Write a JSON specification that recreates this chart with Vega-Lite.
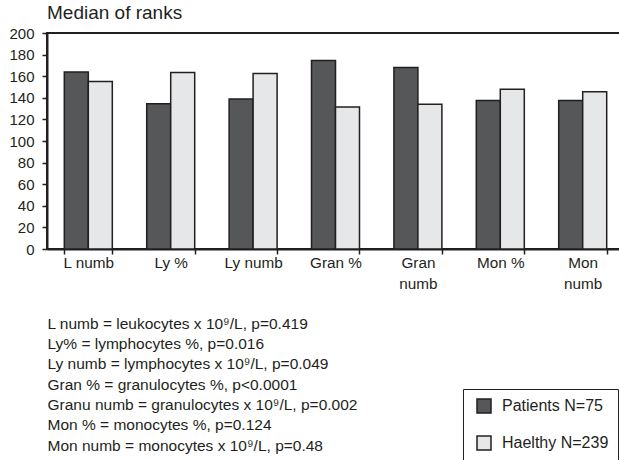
{
  "$schema": "https://vega.github.io/schema/vega-lite/v6.json",
  "autosize": {"type": "none"},
  "padding": {"left": 47, "top": 33, "right": 0, "bottom": 211},
  "width": 577,
  "height": 216,
  "background": "white",
  "title": {
    "text": "Median of ranks",
    "anchor": "start",
    "frame": "group",
    "fontSize": 19,
    "fontWeight": "normal",
    "font": "Liberation Sans",
    "color": "#231f20",
    "offset": 3
  },
  "data": {
    "values": [
      {"category": "L numb", "group": "Patients N=75", "value": 164},
      {"category": "L numb", "group": "Haelthy N=239", "value": 155},
      {"category": "Ly %", "group": "Patients N=75", "value": 134.5},
      {"category": "Ly %", "group": "Haelthy N=239", "value": 163.5},
      {"category": "Ly numb", "group": "Patients N=75", "value": 139},
      {"category": "Ly numb", "group": "Haelthy N=239", "value": 162.5},
      {"category": "Gran %", "group": "Patients N=75", "value": 174.5},
      {"category": "Gran %", "group": "Haelthy N=239", "value": 131.5},
      {"category": "Gran numb", "group": "Patients N=75", "value": 168},
      {"category": "Gran numb", "group": "Haelthy N=239", "value": 134},
      {"category": "Mon %", "group": "Patients N=75", "value": 137.5},
      {"category": "Mon %", "group": "Haelthy N=239", "value": 148},
      {"category": "Mon numb", "group": "Patients N=75", "value": 137.5},
      {"category": "Mon numb", "group": "Haelthy N=239", "value": 145.5}
    ]
  },
  "mark": {"type": "bar", "stroke": "#231f20", "strokeWidth": 1.5},
  "encoding": {
    "x": {
      "field": "category",
      "type": "nominal",
      "sort": ["L numb", "Ly %", "Ly numb", "Gran %", "Gran numb", "Mon %", "Mon numb"],
      "scale": {"paddingInner": 0.4175, "paddingOuter": 0.21},
      "axis": {
        "labelAngle": 0,
        "labelFontSize": 15.3,
        "labelFont": "Liberation Sans",
        "labelColor": "#231f20",
        "labelPadding": 1,
        "labelLineHeight": 21,
        "labelExpr": "(datum.label == 'Gran numb' || datum.label == 'Mon numb') ? split(datum.label, ' ') : datum.label",
        "tickBand": "extent",
        "tickSize": 5,
        "tickWidth": 1.5,
        "tickColor": "#231f20",
        "domainColor": "#231f20",
        "domainWidth": 2,
        "title": [
          "L numb = leukocytes x 10⁹/L, p=0.419",
          "Ly% = lymphocytes %, p=0.016",
          "Ly numb = lymphocytes x 10⁹/L, p=0.049",
          "Gran % = granulocytes %, p<0.0001",
          "Granu numb = granulocytes x 10⁹/L, p=0.002",
          "Mon % = monocytes %, p=0.124",
          "Mon numb = monocytes x 10⁹/L, p=0.48"
        ],
        "titleAnchor": "start",
        "titleAlign": "left",
        "titleFontSize": 15.5,
        "titleFontWeight": "normal",
        "titleFont": "Liberation Sans",
        "titleColor": "#231f20",
        "titleLineHeight": 20.3,
        "titlePadding": 25
      }
    },
    "xOffset": {
      "field": "group",
      "type": "nominal",
      "sort": ["Patients N=75", "Haelthy N=239"]
    },
    "y": {
      "field": "value",
      "type": "quantitative",
      "scale": {"domain": [0, 200], "nice": false},
      "axis": {
        "title": null,
        "values": [0, 20, 40, 60, 80, 100, 120, 140, 160, 180, 200],
        "grid": false,
        "labelFontSize": 15,
        "labelFont": "Liberation Sans",
        "labelColor": "#231f20",
        "labelPadding": 8,
        "tickSize": 5,
        "tickWidth": 1.5,
        "tickColor": "#231f20",
        "domainColor": "#231f20",
        "domainWidth": 2
      }
    },
    "color": {
      "field": "group",
      "type": "nominal",
      "sort": ["Patients N=75", "Haelthy N=239"],
      "scale": {"domain": ["Patients N=75", "Haelthy N=239"], "range": ["#555759", "#e6e7e8"]},
      "legend": {
        "title": null,
        "orient": "none",
        "legendX": 416,
        "legendY": 356,
        "direction": "vertical",
        "strokeColor": "#231f20",
        "padding": 9,
        "symbolOffset": 4,
        "symbolType": "square",
        "symbolSize": 196,
        "symbolStrokeColor": "#231f20",
        "symbolStrokeWidth": 1.5,
        "symbolOpacity": 1,
        "labelFontSize": 16,
        "labelFont": "Liberation Sans",
        "labelColor": "#231f20",
        "labelOffset": 10,
        "rowPadding": 17
      }
    }
  },
  "config": {
    "view": {"stroke": "#231f20", "strokeWidth": 2}
  }
}
